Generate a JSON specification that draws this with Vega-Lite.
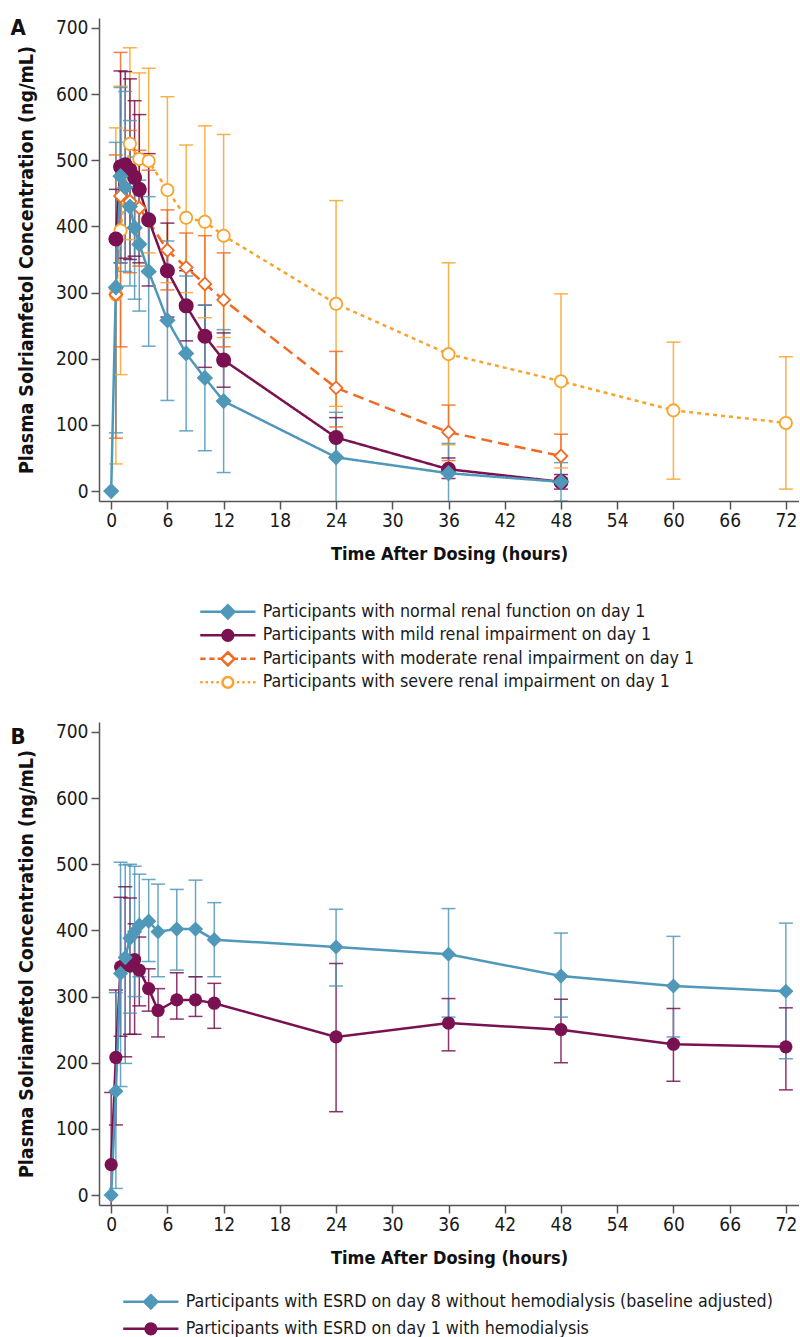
{
  "$schema": "https://vega.github.io/schema/vega-lite/v6.json",
  "padding": {"left": 10, "top": 17, "right": 0, "bottom": 0},
  "background": "white",
  "spacing": 29,
  "config": {
    "font": "Liberation Sans Narrow, DejaVu Sans Condensed, Liberation Sans, sans-serif",
    "view": {"stroke": null},
    "axis": {
      "grid": false,
      "labelFont": "Liberation Sans Narrow, DejaVu Sans Condensed, Liberation Sans, sans-serif",
      "labelFontSize": 19,
      "labelColor": "#1a1a1a",
      "domainColor": "#555555",
      "domainWidth": 1.5,
      "tickColor": "#555555",
      "tickWidth": 1.5,
      "tickSize": 8,
      "titleFont": "Liberation Sans Narrow, DejaVu Sans Condensed, Liberation Sans, sans-serif",
      "titleFontWeight": "bold",
      "titleColor": "#111111"
    },
    "axisX": {"labelPadding": 2, "titlePadding": 15, "titleFontSize": 18},
    "axisY": {"labelPadding": 3, "titlePadding": 19, "titleFontSize": 19.5},
    "title": {"font": "Liberation Sans Narrow, DejaVu Sans Condensed, Liberation Sans, sans-serif", "fontSize": 22, "fontWeight": "bold", "color": "#111111"}
  },
  "datasets": {
    "a": [
      {"g": "Participants with severe renal impairment on day 1", "t": 0.5, "m": 297, "lo": 41, "hi": 549},
      {"g": "Participants with severe renal impairment on day 1", "t": 1, "m": 394, "lo": 176, "hi": 612},
      {"g": "Participants with severe renal impairment on day 1", "t": 2, "m": 525, "lo": 380, "hi": 670},
      {"g": "Participants with severe renal impairment on day 1", "t": 3, "m": 502, "lo": 372, "hi": 632},
      {"g": "Participants with severe renal impairment on day 1", "t": 4, "m": 499, "lo": 360, "hi": 639},
      {"g": "Participants with severe renal impairment on day 1", "t": 6, "m": 455, "lo": 315, "hi": 596},
      {"g": "Participants with severe renal impairment on day 1", "t": 8, "m": 413, "lo": 300, "hi": 523},
      {"g": "Participants with severe renal impairment on day 1", "t": 10, "m": 407, "lo": 262, "hi": 552},
      {"g": "Participants with severe renal impairment on day 1", "t": 12, "m": 386, "lo": 232, "hi": 539},
      {"g": "Participants with severe renal impairment on day 1", "t": 24, "m": 283, "lo": 128, "hi": 439},
      {"g": "Participants with severe renal impairment on day 1", "t": 36, "m": 207, "lo": 70, "hi": 345},
      {"g": "Participants with severe renal impairment on day 1", "t": 48, "m": 166, "lo": 35, "hi": 298},
      {"g": "Participants with severe renal impairment on day 1", "t": 60, "m": 122, "lo": 18, "hi": 225},
      {"g": "Participants with severe renal impairment on day 1", "t": 72, "m": 103, "lo": 3, "hi": 203},
      {"g": "Participants with moderate renal impairment on day 1", "t": 0.5, "m": 297, "lo": 80, "hi": 508},
      {"g": "Participants with moderate renal impairment on day 1", "t": 1, "m": 446, "lo": 218, "hi": 663},
      {"g": "Participants with moderate renal impairment on day 1", "t": 2, "m": 438, "lo": 330, "hi": 545},
      {"g": "Participants with moderate renal impairment on day 1", "t": 3, "m": 428, "lo": 340, "hi": 515},
      {"g": "Participants with moderate renal impairment on day 1", "t": 4, "m": 408, "lo": 330, "hi": 485},
      {"g": "Participants with moderate renal impairment on day 1", "t": 6, "m": 364, "lo": 304, "hi": 425},
      {"g": "Participants with moderate renal impairment on day 1", "t": 8, "m": 338, "lo": 285, "hi": 390},
      {"g": "Participants with moderate renal impairment on day 1", "t": 10, "m": 313, "lo": 240, "hi": 386},
      {"g": "Participants with moderate renal impairment on day 1", "t": 12, "m": 289, "lo": 218, "hi": 360},
      {"g": "Participants with moderate renal impairment on day 1", "t": 24, "m": 156, "lo": 97, "hi": 211},
      {"g": "Participants with moderate renal impairment on day 1", "t": 36, "m": 89, "lo": 46, "hi": 130},
      {"g": "Participants with moderate renal impairment on day 1", "t": 48, "m": 53, "lo": 20, "hi": 86},
      {"g": "Participants with mild renal impairment on day 1", "t": 0.5, "m": 381, "lo": 306, "hi": 456},
      {"g": "Participants with mild renal impairment on day 1", "t": 1, "m": 490, "lo": 345, "hi": 635},
      {"g": "Participants with mild renal impairment on day 1", "t": 1.5, "m": 493, "lo": 352, "hi": 634},
      {"g": "Participants with mild renal impairment on day 1", "t": 2, "m": 485, "lo": 350, "hi": 623},
      {"g": "Participants with mild renal impairment on day 1", "t": 2.5, "m": 474, "lo": 355, "hi": 590},
      {"g": "Participants with mild renal impairment on day 1", "t": 3, "m": 456, "lo": 345, "hi": 569},
      {"g": "Participants with mild renal impairment on day 1", "t": 4, "m": 410, "lo": 310, "hi": 510},
      {"g": "Participants with mild renal impairment on day 1", "t": 6, "m": 333, "lo": 263, "hi": 405},
      {"g": "Participants with mild renal impairment on day 1", "t": 8, "m": 280, "lo": 227, "hi": 333},
      {"g": "Participants with mild renal impairment on day 1", "t": 10, "m": 234, "lo": 187, "hi": 281},
      {"g": "Participants with mild renal impairment on day 1", "t": 12, "m": 198, "lo": 157, "hi": 239},
      {"g": "Participants with mild renal impairment on day 1", "t": 24, "m": 81, "lo": 51, "hi": 111},
      {"g": "Participants with mild renal impairment on day 1", "t": 36, "m": 33, "lo": 19, "hi": 50},
      {"g": "Participants with mild renal impairment on day 1", "t": 48, "m": 14, "lo": 3, "hi": 25},
      {"g": "Participants with normal renal function on day 1", "t": 0, "m": 0, "lo": null, "hi": null},
      {"g": "Participants with normal renal function on day 1", "t": 0.5, "m": 308, "lo": 88, "hi": 527},
      {"g": "Participants with normal renal function on day 1", "t": 1, "m": 476, "lo": 345, "hi": 610},
      {"g": "Participants with normal renal function on day 1", "t": 1.5, "m": 459, "lo": 332, "hi": 604},
      {"g": "Participants with normal renal function on day 1", "t": 2, "m": 430, "lo": 310, "hi": 560},
      {"g": "Participants with normal renal function on day 1", "t": 2.5, "m": 398, "lo": 290, "hi": 505},
      {"g": "Participants with normal renal function on day 1", "t": 3, "m": 373, "lo": 272, "hi": 470},
      {"g": "Participants with normal renal function on day 1", "t": 4, "m": 332, "lo": 219, "hi": 445},
      {"g": "Participants with normal renal function on day 1", "t": 6, "m": 258, "lo": 137, "hi": 378},
      {"g": "Participants with normal renal function on day 1", "t": 8, "m": 208, "lo": 91, "hi": 325},
      {"g": "Participants with normal renal function on day 1", "t": 10, "m": 171, "lo": 61, "hi": 281},
      {"g": "Participants with normal renal function on day 1", "t": 12, "m": 136, "lo": 28, "hi": 244},
      {"g": "Participants with normal renal function on day 1", "t": 24, "m": 51, "lo": -17, "hi": 119},
      {"g": "Participants with normal renal function on day 1", "t": 36, "m": 27, "lo": -18, "hi": 72},
      {"g": "Participants with normal renal function on day 1", "t": 48, "m": 14, "lo": -15, "hi": 43}
    ],
    "b": [
      {"g": "Participants with ESRD on day 1 with hemodialysis", "t": 0, "m": 46, "lo": -63, "hi": 155},
      {"g": "Participants with ESRD on day 1 with hemodialysis", "t": 0.5, "m": 208, "lo": 106, "hi": 310},
      {"g": "Participants with ESRD on day 1 with hemodialysis", "t": 1, "m": 345, "lo": 240, "hi": 450},
      {"g": "Participants with ESRD on day 1 with hemodialysis", "t": 1.5, "m": 350, "lo": 209, "hi": 466},
      {"g": "Participants with ESRD on day 1 with hemodialysis", "t": 2, "m": 346, "lo": 243, "hi": 449},
      {"g": "Participants with ESRD on day 1 with hemodialysis", "t": 2.5, "m": 356, "lo": 243, "hi": 410},
      {"g": "Participants with ESRD on day 1 with hemodialysis", "t": 3, "m": 340, "lo": 286, "hi": 390},
      {"g": "Participants with ESRD on day 1 with hemodialysis", "t": 4, "m": 312, "lo": 278, "hi": 342},
      {"g": "Participants with ESRD on day 1 with hemodialysis", "t": 5, "m": 279, "lo": 239, "hi": 312},
      {"g": "Participants with ESRD on day 1 with hemodialysis", "t": 7, "m": 295, "lo": 266, "hi": 336},
      {"g": "Participants with ESRD on day 1 with hemodialysis", "t": 9, "m": 295, "lo": 270, "hi": 330},
      {"g": "Participants with ESRD on day 1 with hemodialysis", "t": 11, "m": 290, "lo": 252, "hi": 320},
      {"g": "Participants with ESRD on day 1 with hemodialysis", "t": 24, "m": 239, "lo": 126, "hi": 350},
      {"g": "Participants with ESRD on day 1 with hemodialysis", "t": 36, "m": 260, "lo": 218, "hi": 297},
      {"g": "Participants with ESRD on day 1 with hemodialysis", "t": 48, "m": 250, "lo": 200, "hi": 296},
      {"g": "Participants with ESRD on day 1 with hemodialysis", "t": 60, "m": 228, "lo": 172, "hi": 282},
      {"g": "Participants with ESRD on day 1 with hemodialysis", "t": 72, "m": 224, "lo": 159, "hi": 283},
      {"g": "Participants with ESRD on day 8 without hemodialysis (baseline adjusted)", "t": 0, "m": 0, "lo": null, "hi": null},
      {"g": "Participants with ESRD on day 8 without hemodialysis (baseline adjusted)", "t": 0.5, "m": 157, "lo": 10, "hi": 306},
      {"g": "Participants with ESRD on day 8 without hemodialysis (baseline adjusted)", "t": 1, "m": 335, "lo": 164, "hi": 503},
      {"g": "Participants with ESRD on day 8 without hemodialysis (baseline adjusted)", "t": 1.5, "m": 359, "lo": 199, "hi": 499},
      {"g": "Participants with ESRD on day 8 without hemodialysis (baseline adjusted)", "t": 2, "m": 388, "lo": 275, "hi": 500},
      {"g": "Participants with ESRD on day 8 without hemodialysis (baseline adjusted)", "t": 2.5, "m": 398, "lo": 300, "hi": 497},
      {"g": "Participants with ESRD on day 8 without hemodialysis (baseline adjusted)", "t": 3, "m": 408, "lo": 330, "hi": 485},
      {"g": "Participants with ESRD on day 8 without hemodialysis (baseline adjusted)", "t": 4, "m": 414, "lo": 353, "hi": 477},
      {"g": "Participants with ESRD on day 8 without hemodialysis (baseline adjusted)", "t": 5, "m": 398, "lo": 330, "hi": 470},
      {"g": "Participants with ESRD on day 8 without hemodialysis (baseline adjusted)", "t": 7, "m": 402, "lo": 340, "hi": 462},
      {"g": "Participants with ESRD on day 8 without hemodialysis (baseline adjusted)", "t": 9, "m": 402, "lo": 330, "hi": 476},
      {"g": "Participants with ESRD on day 8 without hemodialysis (baseline adjusted)", "t": 11, "m": 386, "lo": 330, "hi": 442},
      {"g": "Participants with ESRD on day 8 without hemodialysis (baseline adjusted)", "t": 24, "m": 375, "lo": 316, "hi": 432},
      {"g": "Participants with ESRD on day 8 without hemodialysis (baseline adjusted)", "t": 36, "m": 364, "lo": 269, "hi": 433},
      {"g": "Participants with ESRD on day 8 without hemodialysis (baseline adjusted)", "t": 48, "m": 331, "lo": 269, "hi": 396},
      {"g": "Participants with ESRD on day 8 without hemodialysis (baseline adjusted)", "t": 60, "m": 316, "lo": 239, "hi": 391},
      {"g": "Participants with ESRD on day 8 without hemodialysis (baseline adjusted)", "t": 72, "m": 308, "lo": 206, "hi": 411}
    ]
  },
  "vconcat": [
    {
      "width": 700,
      "height": 483,
      "title": {"text": "A", "anchor": "start", "frame": "bounds", "offset": -22, "dx": -6},
      "data": {"name": "a"},
      "encoding": {
        "x": {"field": "t", "type": "quantitative", "scale": {"domain": [-1.3, 73.4], "nice": false, "zero": false},
              "axis": {"values": [0, 6, 12, 18, 24, 30, 36, 42, 48, 54, 60, 66, 72], "title": "Time After Dosing (hours)"}}
      },
      "layer": [
        {
          "mark": {"type": "rule", "strokeWidth": 1.5, "clip": true, "opacity": 0.85},
          "encoding": {
            "y": {"field": "lo", "type": "quantitative", "scale": {"domain": [-15, 715], "nice": false, "zero": false}, "axis": {"values": [0, 100, 200, 300, 400, 500, 600, 700], "title": "Plasma Solriamfetol Concentration (ng/mL)"}},
            "y2": {"field": "hi"},
            "color": {"field": "g", "type": "nominal", "legend": null, "scale": {"domain": ["Participants with normal renal function on day 1", "Participants with mild renal impairment on day 1", "Participants with moderate renal impairment on day 1", "Participants with severe renal impairment on day 1"], "range": ["#4f98b9", "#7a1150", "#f26a21", "#faa32b"]}}
          }
        },
        {
          "mark": {"type": "tick", "orient": "horizontal", "size": 14, "thickness": 1.5, "clip": true, "opacity": 0.85},
          "encoding": {
            "y": {"field": "lo", "type": "quantitative", "scale": {"domain": [-15, 715], "nice": false, "zero": false}, "axis": {"values": [0, 100, 200, 300, 400, 500, 600, 700], "title": "Plasma Solriamfetol Concentration (ng/mL)"}},
            "color": {"field": "g", "type": "nominal", "legend": null, "scale": {"domain": ["Participants with normal renal function on day 1", "Participants with mild renal impairment on day 1", "Participants with moderate renal impairment on day 1", "Participants with severe renal impairment on day 1"], "range": ["#4f98b9", "#7a1150", "#f26a21", "#faa32b"]}}
          }
        },
        {
          "mark": {"type": "tick", "orient": "horizontal", "size": 14, "thickness": 1.5, "clip": true, "opacity": 0.85},
          "encoding": {
            "y": {"field": "hi", "type": "quantitative", "scale": {"domain": [-15, 715], "nice": false, "zero": false}, "axis": {"values": [0, 100, 200, 300, 400, 500, 600, 700], "title": "Plasma Solriamfetol Concentration (ng/mL)"}},
            "color": {"field": "g", "type": "nominal", "legend": null, "scale": {"domain": ["Participants with normal renal function on day 1", "Participants with mild renal impairment on day 1", "Participants with moderate renal impairment on day 1", "Participants with severe renal impairment on day 1"], "range": ["#4f98b9", "#7a1150", "#f26a21", "#faa32b"]}}
          }
        },
        {
          "mark": {"type": "line", "strokeWidth": 2.5},
          "encoding": {
            "y": {"field": "m", "type": "quantitative", "scale": {"domain": [-15, 715], "nice": false, "zero": false}, "axis": {"values": [0, 100, 200, 300, 400, 500, 600, 700], "title": "Plasma Solriamfetol Concentration (ng/mL)"}},
            "color": {"field": "g", "type": "nominal", "legend": null, "scale": {"domain": ["Participants with normal renal function on day 1", "Participants with mild renal impairment on day 1", "Participants with moderate renal impairment on day 1", "Participants with severe renal impairment on day 1"], "range": ["#4f98b9", "#7a1150", "#f26a21", "#faa32b"]}},
            "strokeDash": {"field": "g", "type": "nominal", "legend": null, "scale": {"domain": ["Participants with normal renal function on day 1", "Participants with mild renal impairment on day 1", "Participants with moderate renal impairment on day 1", "Participants with severe renal impairment on day 1"], "range": [[1, 0], [1, 0], [11, 6], [4, 4]]}}
          }
        },
        {
          "mark": {"type": "point", "filled": false, "strokeWidth": 1.8, "opacity": 1},
          "encoding": {
            "y": {"field": "m", "type": "quantitative", "scale": {"domain": [-15, 715], "nice": false, "zero": false}, "axis": {"values": [0, 100, 200, 300, 400, 500, 600, 700], "title": "Plasma Solriamfetol Concentration (ng/mL)"}},
            "color": {"field": "g", "type": "nominal", "legend": null, "scale": {"domain": ["Participants with normal renal function on day 1", "Participants with mild renal impairment on day 1", "Participants with moderate renal impairment on day 1", "Participants with severe renal impairment on day 1"], "range": ["#4f98b9", "#7a1150", "#f26a21", "#faa32b"]}},
            "fill": {"field": "g", "type": "nominal", "legend": null, "scale": {"domain": ["Participants with normal renal function on day 1", "Participants with mild renal impairment on day 1", "Participants with moderate renal impairment on day 1", "Participants with severe renal impairment on day 1"], "range": ["#4f98b9", "#7a1150", "#ffffff", "#ffffff"]}},
            "shape": {"field": "g", "type": "nominal", "legend": null, "scale": {"domain": ["Participants with normal renal function on day 1", "Participants with mild renal impairment on day 1", "Participants with moderate renal impairment on day 1", "Participants with severe renal impairment on day 1"], "range": ["diamond", "circle", "diamond", "circle"]}},
            "size": {"field": "g", "type": "nominal", "legend": null, "scale": {"domain": ["Participants with normal renal function on day 1", "Participants with mild renal impairment on day 1", "Participants with moderate renal impairment on day 1", "Participants with severe renal impairment on day 1"], "range": [190, 150, 170, 180]}}
          }
        },
        {
          "mark": {"type": "point", "filled": false, "opacity": 0},
          "encoding": {
            "y": {"field": "m", "type": "quantitative", "scale": {"domain": [-15, 715], "nice": false, "zero": false}, "axis": {"values": [0, 100, 200, 300, 400, 500, 600, 700], "title": "Plasma Solriamfetol Concentration (ng/mL)"}},
            "stroke": {"field": "g", "type": "nominal",
              "legend": {"title": null, "orient": "none", "direction": "vertical", "legendX": 120, "legendY": 585, "padding": 0, "symbolSize": 144, "symbolStrokeWidth": 2.5, "labelFontSize": 17.7, "labelOffset": 26, "rowPadding": 0.5, "labelLimit": 0, "labelColor": "#1a1a1a"},
              "scale": {"domain": ["Participants with normal renal function on day 1", "Participants with mild renal impairment on day 1", "Participants with moderate renal impairment on day 1", "Participants with severe renal impairment on day 1"], "range": ["#4f98b9", "#7a1150", "#f26a21", "#faa32b"]}},
            "shape": {"field": "g", "type": "nominal",
              "legend": {"title": null, "orient": "none", "direction": "vertical", "legendX": 120, "legendY": 585, "padding": 0, "symbolSize": 144, "symbolStrokeWidth": 2.5, "labelFontSize": 17.7, "labelOffset": 26, "rowPadding": 0.5, "labelLimit": 0, "labelColor": "#1a1a1a"},
              "scale": {"domain": ["Participants with normal renal function on day 1", "Participants with mild renal impairment on day 1", "Participants with moderate renal impairment on day 1", "Participants with severe renal impairment on day 1"],
                "range": [
                  "M-4.6,0H4.6M0,-1.1L1.1,0L0,1.1L-1.1,0ZM0,-0.7L0.7,0L0,0.7L-0.7,0ZM0,-0.3L0.3,0L0,0.3L-0.3,0Z",
                  "M-4.6,0H4.6M0.9,0A0.9,0.9,0,1,1,-0.9,0A0.9,0.9,0,1,1,0.9,0ZM0.55,0A0.55,0.55,0,1,1,-0.55,0A0.55,0.55,0,1,1,0.55,0ZM0.2,0A0.2,0.2,0,1,1,-0.2,0A0.2,0.2,0,1,1,0.2,0Z",
                  "M-4.6,0H-3.7M-3.1,0H-2.2M-1.7,0H-1.1M1.1,0H1.7M2.2,0H3.1M3.7,0H4.6M0,-1.1L1.1,0L0,1.1L-1.1,0Z",
                  "M-4.6,0H-4.2M-3.7,0H-3.3M-2.8,0H-2.4M-1.9,0H-1.5M1.5,0H1.9M2.4,0H2.8M3.3,0H3.7M4.2,0H4.6M0.9,0A0.9,0.9,0,1,1,-0.9,0A0.9,0.9,0,1,1,0.9,0Z"
                ]}}
          }
        }
      ],
      "resolve": {"scale": {"color": "independent", "fill": "independent", "stroke": "independent", "shape": "independent", "strokeDash": "independent", "size": "independent"}}
    },
    {
      "width": 700,
      "height": 483,
      "title": {"text": "B", "anchor": "start", "frame": "bounds", "offset": -27, "dx": -6},
      "data": {"name": "b"},
      "encoding": {
        "x": {"field": "t", "type": "quantitative", "scale": {"domain": [-1.3, 73.4], "nice": false, "zero": false},
              "axis": {"values": [0, 6, 12, 18, 24, 30, 36, 42, 48, 54, 60, 66, 72], "title": "Time After Dosing (hours)"}}
      },
      "layer": [
        {
          "mark": {"type": "rule", "strokeWidth": 1.5, "clip": true, "opacity": 0.85},
          "encoding": {
            "y": {"field": "lo", "type": "quantitative", "scale": {"domain": [-15, 715], "nice": false, "zero": false}, "axis": {"values": [0, 100, 200, 300, 400, 500, 600, 700], "title": "Plasma Solriamfetol Concentration (ng/mL)"}},
            "y2": {"field": "hi"},
            "color": {"field": "g", "type": "nominal", "legend": null, "scale": {"domain": ["Participants with ESRD on day 8 without hemodialysis (baseline adjusted)", "Participants with ESRD on day 1 with hemodialysis"], "range": ["#4f98b9", "#7a1150"]}}
          }
        },
        {
          "mark": {"type": "tick", "orient": "horizontal", "size": 14, "thickness": 1.5, "clip": true, "opacity": 0.85},
          "encoding": {
            "y": {"field": "lo", "type": "quantitative", "scale": {"domain": [-15, 715], "nice": false, "zero": false}, "axis": {"values": [0, 100, 200, 300, 400, 500, 600, 700], "title": "Plasma Solriamfetol Concentration (ng/mL)"}},
            "color": {"field": "g", "type": "nominal", "legend": null, "scale": {"domain": ["Participants with ESRD on day 8 without hemodialysis (baseline adjusted)", "Participants with ESRD on day 1 with hemodialysis"], "range": ["#4f98b9", "#7a1150"]}}
          }
        },
        {
          "mark": {"type": "tick", "orient": "horizontal", "size": 14, "thickness": 1.5, "clip": true, "opacity": 0.85},
          "encoding": {
            "y": {"field": "hi", "type": "quantitative", "scale": {"domain": [-15, 715], "nice": false, "zero": false}, "axis": {"values": [0, 100, 200, 300, 400, 500, 600, 700], "title": "Plasma Solriamfetol Concentration (ng/mL)"}},
            "color": {"field": "g", "type": "nominal", "legend": null, "scale": {"domain": ["Participants with ESRD on day 8 without hemodialysis (baseline adjusted)", "Participants with ESRD on day 1 with hemodialysis"], "range": ["#4f98b9", "#7a1150"]}}
          }
        },
        {
          "mark": {"type": "line", "strokeWidth": 2.5},
          "encoding": {
            "y": {"field": "m", "type": "quantitative", "scale": {"domain": [-15, 715], "nice": false, "zero": false}, "axis": {"values": [0, 100, 200, 300, 400, 500, 600, 700], "title": "Plasma Solriamfetol Concentration (ng/mL)"}},
            "color": {"field": "g", "type": "nominal", "legend": null, "scale": {"domain": ["Participants with ESRD on day 8 without hemodialysis (baseline adjusted)", "Participants with ESRD on day 1 with hemodialysis"], "range": ["#4f98b9", "#7a1150"]}}
          }
        },
        {
          "mark": {"type": "point", "filled": true, "opacity": 1},
          "encoding": {
            "y": {"field": "m", "type": "quantitative", "scale": {"domain": [-15, 715], "nice": false, "zero": false}, "axis": {"values": [0, 100, 200, 300, 400, 500, 600, 700], "title": "Plasma Solriamfetol Concentration (ng/mL)"}},
            "color": {"field": "g", "type": "nominal", "legend": null, "scale": {"domain": ["Participants with ESRD on day 8 without hemodialysis (baseline adjusted)", "Participants with ESRD on day 1 with hemodialysis"], "range": ["#4f98b9", "#7a1150"]}},
            "shape": {"field": "g", "type": "nominal", "legend": null, "scale": {"domain": ["Participants with ESRD on day 8 without hemodialysis (baseline adjusted)", "Participants with ESRD on day 1 with hemodialysis"], "range": ["diamond", "circle"]}},
            "size": {"field": "g", "type": "nominal", "legend": null, "scale": {"domain": ["Participants with ESRD on day 8 without hemodialysis (baseline adjusted)", "Participants with ESRD on day 1 with hemodialysis"], "range": [230, 175]}}
          }
        },
        {
          "mark": {"type": "point", "filled": false, "opacity": 0},
          "encoding": {
            "y": {"field": "m", "type": "quantitative", "scale": {"domain": [-15, 715], "nice": false, "zero": false}, "axis": {"values": [0, 100, 200, 300, 400, 500, 600, 700], "title": "Plasma Solriamfetol Concentration (ng/mL)"}},
            "stroke": {"field": "g", "type": "nominal",
              "legend": {"title": null, "orient": "none", "direction": "vertical", "legendX": 43, "legendY": 571, "padding": 0, "symbolSize": 144, "symbolStrokeWidth": 2.5, "labelFontSize": 17.7, "labelOffset": 26, "rowPadding": 4, "labelLimit": 0, "labelColor": "#1a1a1a"},
              "scale": {"domain": ["Participants with ESRD on day 8 without hemodialysis (baseline adjusted)", "Participants with ESRD on day 1 with hemodialysis"], "range": ["#4f98b9", "#7a1150"]}},
            "shape": {"field": "g", "type": "nominal",
              "legend": {"title": null, "orient": "none", "direction": "vertical", "legendX": 43, "legendY": 571, "padding": 0, "symbolSize": 144, "symbolStrokeWidth": 2.5, "labelFontSize": 17.7, "labelOffset": 26, "rowPadding": 4, "labelLimit": 0, "labelColor": "#1a1a1a"},
              "scale": {"domain": ["Participants with ESRD on day 8 without hemodialysis (baseline adjusted)", "Participants with ESRD on day 1 with hemodialysis"],
                "range": [
                  "M-4.6,0H4.6M0,-1.1L1.1,0L0,1.1L-1.1,0ZM0,-0.7L0.7,0L0,0.7L-0.7,0ZM0,-0.3L0.3,0L0,0.3L-0.3,0Z",
                  "M-4.6,0H4.6M0.9,0A0.9,0.9,0,1,1,-0.9,0A0.9,0.9,0,1,1,0.9,0ZM0.55,0A0.55,0.55,0,1,1,-0.55,0A0.55,0.55,0,1,1,0.55,0ZM0.2,0A0.2,0.2,0,1,1,-0.2,0A0.2,0.2,0,1,1,0.2,0Z"
                ]}}
          }
        }
      ],
      "resolve": {"scale": {"color": "independent", "fill": "independent", "stroke": "independent", "shape": "independent", "size": "independent"}}
    }
  ],
  "resolve": {"scale": {"color": "independent", "fill": "independent", "stroke": "independent", "shape": "independent", "strokeDash": "independent", "size": "independent"}}
}
